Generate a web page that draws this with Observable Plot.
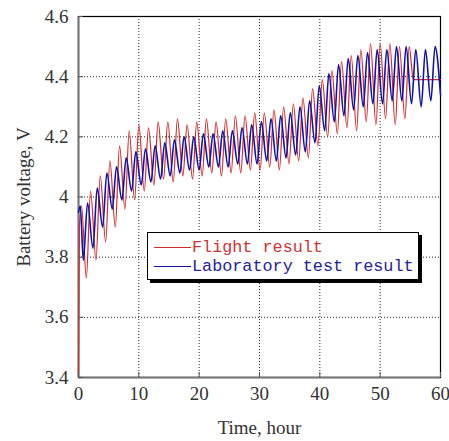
<!DOCTYPE html>
<html><head><meta charset="utf-8">
<script src="https://cdn.jsdelivr.net/npm/d3@7"></script>
<script src="https://cdn.jsdelivr.net/npm/@observablehq/plot@0.6"></script>
<style>
body{margin:0;background:#fff;}
#wrap{position:relative;width:449px;height:441px;}
#wrap svg text{font-family:"Liberation Serif","Times New Roman",serif !important;}
#legend{position:absolute;left:147px;top:232px;width:272px;height:48px;border:1px solid #000;background:#fff;box-shadow:3px 3px 0 #000;font-family:"Liberation Mono",monospace;font-size:16.8px;line-height:19px;padding-top:5px;box-sizing:border-box;white-space:nowrap;}
#legend .row{display:flex;align-items:center;height:19px;}
#legend .sw{display:inline-block;width:37px;height:0;margin-left:6px;margin-right:1px;}
</style>
</head><body>
<div id="wrap"></div>
<script>
const seriesNames = ["Flight result", "Laboratory test result"];
const seriesColors = ["#d42a2a", "#1212a8"];
const xTicks = [0, 10, 20, 30, 40, 50, 60];
const yTicks = [3.4, 3.6, 3.8, 4.0, 4.2, 4.4, 4.6];

// Flight result: time (hour), battery voltage (V)
const flightTime = [0, 0.15, 0.5, 1.3, 2.0, 2.9, 3.6, 4.5, 5.2, 6.1, 6.8, 7.7, 8.4, 9.3, 10.0, 10.9, 11.6, 12.5, 13.2, 14.1, 14.8, 15.7, 16.4, 17.3, 18.0, 18.9, 19.6, 20.5, 21.2, 22.1, 22.8, 23.7, 24.4, 25.3, 26.0, 26.9, 27.6, 28.5, 29.2, 30.1, 30.8, 31.7, 32.4, 33.3, 34.0, 34.9, 35.6, 36.5, 37.2, 38.1, 38.8, 39.7, 40.4, 41.3, 42.0, 42.9, 43.6, 44.5, 45.2, 46.1, 46.8, 47.7, 48.4, 49.3, 50.0, 50.9, 51.6, 52.5, 53.2, 54.1, 54.8, 55.5, 60];
const flightVolt = [3.40, 3.90, 3.97, 3.73, 4.02, 3.79, 4.07, 3.85, 4.12, 3.90, 4.17, 3.96, 4.22, 3.99, 4.24, 4.02, 4.23, 4.04, 4.25, 4.06, 4.25, 4.05, 4.26, 4.07, 4.24, 4.06, 4.25, 4.07, 4.26, 4.08, 4.25, 4.07, 4.26, 4.08, 4.27, 4.08, 4.27, 4.09, 4.28, 4.09, 4.28, 4.10, 4.29, 4.09, 4.30, 4.11, 4.31, 4.12, 4.33, 4.13, 4.36, 4.17, 4.39, 4.20, 4.42, 4.21, 4.45, 4.23, 4.47, 4.22, 4.49, 4.25, 4.51, 4.24, 4.51, 4.26, 4.51, 4.24, 4.50, 4.26, 4.50, 4.39, 4.39];

// Laboratory test result: time (hour), battery voltage (V)
const labTime = [0, 0.3, 0.8, 1.5, 2.4, 3.1, 4.0, 4.7, 5.6, 6.3, 7.2, 7.9, 8.8, 9.5, 10.4, 11.1, 12.0, 12.7, 13.6, 14.3, 15.2, 15.9, 16.8, 17.5, 18.4, 19.1, 20.0, 20.7, 21.6, 22.3, 23.2, 23.9, 24.8, 25.5, 26.4, 27.1, 28.0, 28.7, 29.6, 30.3, 31.2, 31.9, 32.8, 33.5, 34.4, 35.1, 36.0, 36.7, 37.6, 38.3, 39.2, 39.9, 40.8, 41.5, 42.4, 43.1, 44.0, 44.7, 45.6, 46.3, 47.2, 47.9, 48.8, 49.5, 50.4, 51.1, 52.0, 52.7, 53.6, 54.3, 55.2, 55.9, 56.8, 57.5, 58.4, 59.1, 60.0];
const labVolt = [3.95, 3.97, 3.79, 3.98, 3.83, 4.03, 3.90, 4.08, 3.96, 4.10, 3.99, 4.13, 4.02, 4.15, 4.04, 4.16, 4.05, 4.17, 4.06, 4.18, 4.07, 4.19, 4.08, 4.20, 4.09, 4.20, 4.09, 4.21, 4.10, 4.21, 4.10, 4.22, 4.10, 4.22, 4.11, 4.23, 4.11, 4.24, 4.11, 4.25, 4.12, 4.26, 4.12, 4.27, 4.13, 4.28, 4.14, 4.30, 4.15, 4.32, 4.18, 4.37, 4.22, 4.41, 4.25, 4.44, 4.27, 4.46, 4.29, 4.47, 4.30, 4.48, 4.31, 4.49, 4.31, 4.49, 4.32, 4.50, 4.32, 4.50, 4.31, 4.49, 4.30, 4.49, 4.32, 4.50, 4.34];

const flight = flightTime.map((t, i) => ({t, v: flightVolt[i]}));
const lab = labTime.map((t, i) => ({t, v: labVolt[i]}));
const xGrid = xTicks.slice(1, -1);
const yGrid = yTicks.slice(1, -1);
const serif = "'Liberation Serif', 'DejaVu Serif', serif";

const chart = Plot.plot({
  width: 449, height: 441,
  marginLeft: 78, marginRight: 9, marginTop: 16, marginBottom: 64,
  style: {fontFamily: serif, fontSize: "18px", color: "#333", background: "#fff", overflow: "visible"},
  x: {domain: [0, 60]},
  y: {domain: [3.4, 4.6]},
  marks: [
    Plot.gridX(xGrid, {stroke: "#000", strokeOpacity: 0.85, strokeDasharray: "1,2"}),
    Plot.gridY(yGrid, {stroke: "#000", strokeOpacity: 0.85, strokeDasharray: "1,2"}),
    Plot.frame({stroke: "#000", strokeWidth: 1.2}),
    Plot.ruleX([0], {stroke: "#777", strokeWidth: 2}),
    Plot.ruleY([3.4], {stroke: "#777", strokeWidth: 2}),
    Plot.line(flight, {x: "t", y: "v", stroke: seriesColors[0], strokeWidth: 1.2, curve: "monotone-x"}),
    Plot.line(lab, {x: "t", y: "v", stroke: seriesColors[1], strokeWidth: 1.6, curve: "monotone-x"}),
    Plot.axisX(xTicks, {tickSize: -5, tickFormat: () => "", label: null, stroke: "#555"}),
    Plot.axisY(yTicks, {tickSize: -5, tickFormat: () => "", label: null, stroke: "#555"}),
    Plot.axisX(xTicks, {tickSize: 0, tickPadding: 9, label: "Time, hour", labelAnchor: "center", labelOffset: 56, labelArrow: "none", fontSize: 19, fontFamily: serif}),
    Plot.axisY(yTicks, {tickSize: 0, tickPadding: 10, tickFormat: d => d === 4 ? "4" : d.toFixed(1), label: "Battery voltage, V", labelAnchor: "center", labelOffset: 62, labelArrow: "none", fontSize: 19, fontFamily: serif})
  ]
});
const wrap = document.getElementById("wrap");
wrap.appendChild(chart);
const legend = document.createElement("div");
legend.id = "legend";
seriesNames.forEach((name, i) => {
  const row = document.createElement("div");
  row.className = "row";
  const sw = document.createElement("span");
  sw.className = "sw";
  sw.style.borderTop = `1px solid ${seriesColors[i]}`;
  const tx = document.createElement("span");
  tx.textContent = name;
  tx.style.color = i === 0 ? "#d03434" : "#23239a";
  row.appendChild(sw); row.appendChild(tx);
  legend.appendChild(row);
});
wrap.appendChild(legend);
</script>
</body></html>
